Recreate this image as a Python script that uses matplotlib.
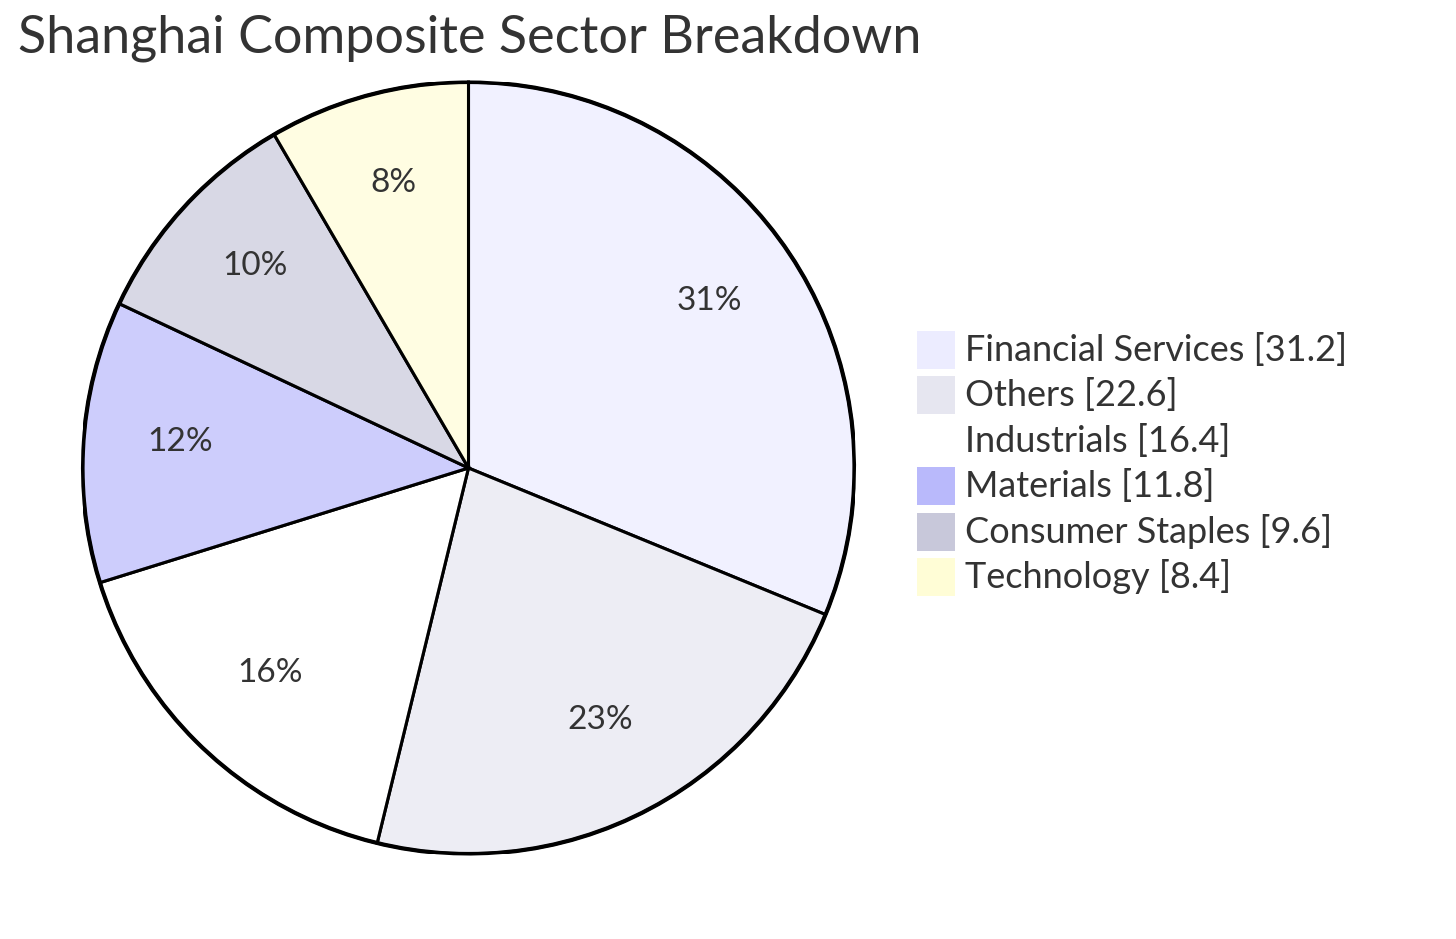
import matplotlib
matplotlib.use("Agg")
import matplotlib.pyplot as plt
from matplotlib.colors import to_rgba
from matplotlib.patches import Circle, Rectangle
from matplotlib.transforms import offset_copy

title = "Shanghai Composite Sector Breakdown"
sectors = ["Financial Services", "Others", "Industrials", "Materials",
           "Consumer Staples", "Technology"]
values = [31.2, 22.6, 16.4, 11.8, 9.6, 8.4]
colors = ["#ECECFF", "#E6E6F0", "#FFFFFF", "#B9B9FB", "#C8C8DA", "#FFFDD6"]

W, H = 1456, 939
fig = plt.figure(figsize=(W / 100, H / 100), dpi=100)
fig.patch.set_facecolor("white")

FONT = ["Lato", "DejaVu Sans"]
TXT = "#333333"

cx, cy, R = 468.5, 468, 386
ax = fig.add_axes([(cx - R) / W, (H - cy - R) / H, 2 * R / W, 2 * R / H])
face = [to_rgba(c, 0.7) for c in colors]
total = sum(values)
wedges, texts = ax.pie(values, colors=face, startangle=90, counterclock=False,
                       radius=1,
                       labels=[f"{v / total * 100:.0f}%" for v in values],
                       labeldistance=0.75,
                       wedgeprops=dict(edgecolor="black", linewidth=2.2),
                       textprops=dict(fontsize=24, color=TXT, family=FONT,
                                      ha="center", va="center"))
for t in texts:
    t.set_transform(offset_copy(ax.transData, fig=fig, x=0, y=6, units="dots"))
ax.add_patch(Circle((0, 0), 1.0, fill=False, edgecolor="black", linewidth=3.0, zorder=5))
ax.set_xlim(-1, 1)
ax.set_ylim(-1, 1)
ax.set_aspect("equal")
ax.axis("off")

fig.text(18 / W, (H - 52) / H, title, fontsize=37.5, color=TXT, family=FONT,
         ha="left", va="baseline")

# legend
x0, y0, sz, step = 917, 331, 38, 45.4
for i, (name, v, c) in enumerate(zip(sectors, values, colors)):
    top = y0 + i * step
    fig.patches.append(Rectangle((x0 / W, (H - top - sz) / H), sz / W, sz / H,
                                 transform=fig.transFigure, facecolor=c,
                                 edgecolor=c, linewidth=0))
    fig.text(965 / W, (H - top - sz / 2) / H, f"{name} [{v}]", fontsize=26,
             color=TXT, family=FONT, ha="left", va="center")

fig.savefig("out.png", dpi=100, facecolor="white")
